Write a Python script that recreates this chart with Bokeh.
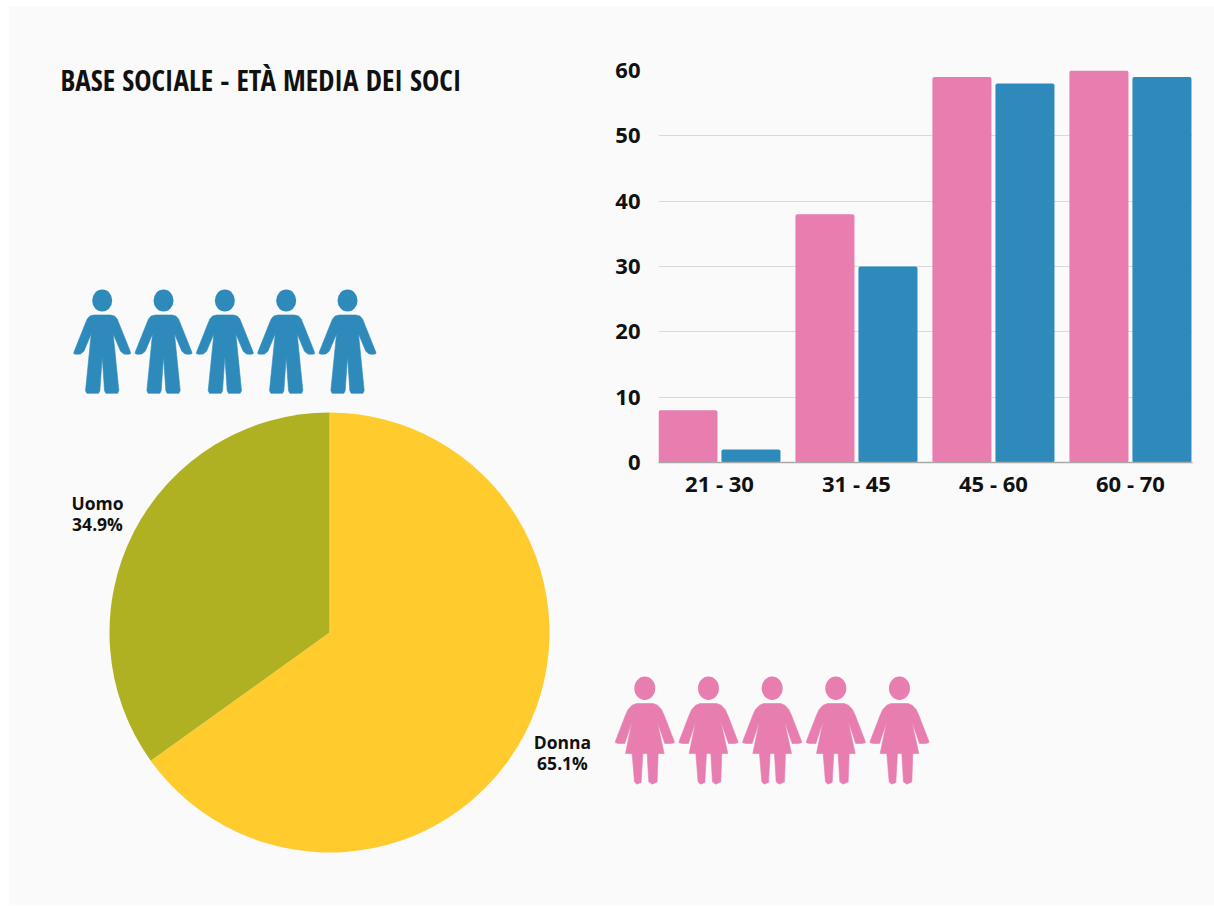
import numpy as np
from bokeh.core.properties import value
from bokeh.embed import file_html
from bokeh.layouts import column, row
from bokeh.models import FixedTicker, Range1d
from bokeh.plotting import figure
from bokeh.resources import INLINE

# Age bands of the members, by gender
age_bands = ["21 - 30", "31 - 45", "45 - 60", "60 - 70"]
women_by_age = [8, 38, 59, 60]
men_by_age = [2, 30, 58, 59]
y_ticks = [0, 10, 20, 30, 40, 50, 60]

# Gender split
pie_labels = ["Donna", "Uomo"]
pie_shares = [65.1, 34.9]

title_text = "BASE SOCIALE - ETÀ MEDIA DEI SOCI"

PANEL = "#fafafa"
PINK = "#e87db0"
BLUE = "#2d8abb"
YELLOW = "#ffcb2d"
OLIVE = "#afb122"
INK = "#111111"
FONT = value("Open Sans")

# Pictogram outlines, in pixels around the figure's vertical axis
MAN_X = np.array([-25, -37, -45, -52, -85, -85, -78, -65, -55, -33, -50, -46, -37, -11, -7, 0,
                  7, 11, 37, 46, 50, 33, 55, 65, 78, 85, 85, 52, 45, 37, 25]) / 3
MAN_Y = np.array([0, 3, 12, 29, 112, 116, 118, 117, 109, 57, 227, 235, 235, 235, 227, 125,
                  227, 235, 235, 235, 227, 57, 109, 117, 118, 116, 112, 29, 12, 3, 0]) / 3
WOMAN_X = np.array([-25, -38, -50, -58, -88, -88, -78, -60, -38, -58, -38, -31, -24, -11, -6, 7, 12,
                    22, 37, 40, 58, 37, 60, 78, 88, 88, 58, 50, 38, 25]) / 3
WOMAN_Y = np.array([0, 5, 18, 35, 113, 118, 120, 120, 53, 150, 150, 235, 242, 237, 150, 150, 235,
                    242, 235, 150, 150, 53, 120, 120, 118, 113, 35, 18, 5, 0]) / 3


def blank(width, height, x_range, y_range):
    fig = figure(width=width, height=height, x_range=x_range, y_range=y_range,
                 output_backend="svg", toolbar_location=None, min_border=0,
                 background_fill_color=PANEL, border_fill_color=PANEL)
    fig.axis.visible = False
    fig.grid.visible = False
    fig.outline_line_color = None
    return fig


def pictograms(fig, xs, neck_y, head_y, rx, ry, outline_x, outline_y, color):
    fig.patches([list(x + outline_x) for x in xs],
                [list(-(neck_y + outline_y))] * len(xs),
                fill_color=color, line_color=color, line_width=0.6, line_join="round")
    fig.ellipse(xs, [-head_y] * len(xs), width=rx * 2, height=ry * 2,
                fill_color=color, line_color=None)


# Left column: title, men's row and the pie
left = blank(591, 899, Range1d(9, 600), Range1d(-905, -6))
left.text([60], [-79], text=[title_text], text_font=value("Open Sans Condensed"),
          text_font_style="bold", text_font_size="29px", text_color=INK,
          text_align="left", text_baseline="middle")

pictograms(left, [101.7 + 61.33 * i for i in range(5)], 314.5, 300, 10, 11, MAN_X, MAN_Y, BLUE)

fractions = np.cumsum([0] + pie_shares) / sum(pie_shares)
starts = np.pi / 2 - 2 * np.pi * fractions[:-1]
ends = np.pi / 2 - 2 * np.pi * fractions[1:]
left.wedge(x=[329, 329], y=[-632, -632], radius=220, start_angle=starts, end_angle=ends,
           direction="clock", fill_color=[YELLOW, OLIVE], line_color=None)

label_x = [562, 97]
label_y = [-741, -502]
left.text(label_x, label_y, text=pie_labels, text_font=FONT, text_font_style="bold",
          text_font_size="17.5px", text_color=INK, text_align="center", text_baseline="middle")
left.text(label_x, [y - 21.5 for y in label_y], text=[f"{s}%" for s in pie_shares], text_font=FONT,
          text_font_style="bold", text_font_size="17.5px", text_color=INK,
          text_align="center", text_baseline="middle")

# Grouped columns by age band
positions = np.arange(len(age_bands))
bars = figure(width=614, height=504, x_range=Range1d(-0.445, 3.453), y_range=Range1d(0, 60),
              output_backend="svg", toolbar_location=None,
              background_fill_color=PANEL, border_fill_color=PANEL,
              min_border_left=58, min_border_right=22, min_border_top=64, min_border_bottom=48)
bars.outline_line_color = None
bars.vbar(x=positions - 0.23, top=women_by_age, width=0.431, fill_color=PINK, line_color=None,
          border_radius=2)
bars.vbar(x=positions + 0.23, top=men_by_age, width=0.431, fill_color=BLUE, line_color=None,
          border_radius=2)
bars.xgrid.visible = False
bars.ygrid.grid_line_color = "#d9d9d9"
bars.ygrid.grid_line_width = 1
bars.ygrid.ticker = FixedTicker(ticks=y_ticks)
bars.yaxis.ticker = FixedTicker(ticks=y_ticks)
bars.xaxis.ticker = FixedTicker(ticks=list(positions))
bars.xaxis.major_label_overrides = {int(i): b for i, b in zip(positions, age_bands)}
bars.yaxis.axis_line_color = None
bars.xaxis.axis_line_color = "#a8a8a8"
bars.xaxis.axis_line_width = 1.5
for axis in (bars.xaxis, bars.yaxis):
    axis.major_tick_line_color = None
    axis.minor_tick_line_color = None
    axis.major_tick_out = 0
    axis.major_tick_in = 0
    axis.major_label_text_font = "Open Sans"
    axis.major_label_text_font_style = "bold"
    axis.major_label_text_font_size = "22px"
    axis.major_label_text_color = INK
bars.yaxis.major_label_standoff = 18
bars.xaxis.major_label_standoff = 5

# Women's row under the columns
lower = blank(614, 395, Range1d(600, 1214), Range1d(-905, -510))
pictograms(lower, [644.3 + 63.67 * i for i in range(5)], 703, 687.7, 10.5, 11.7, WOMAN_X, WOMAN_Y, PINK)

# The row wrapper keeps this frame independent of the columns' frame
page = row(left, column(bars, row(lower), spacing=0), spacing=0, margin=(6, 0, 1, 9),
           styles={"background-color": PANEL})

open("out.html", "w").write(file_html(page, INLINE))
